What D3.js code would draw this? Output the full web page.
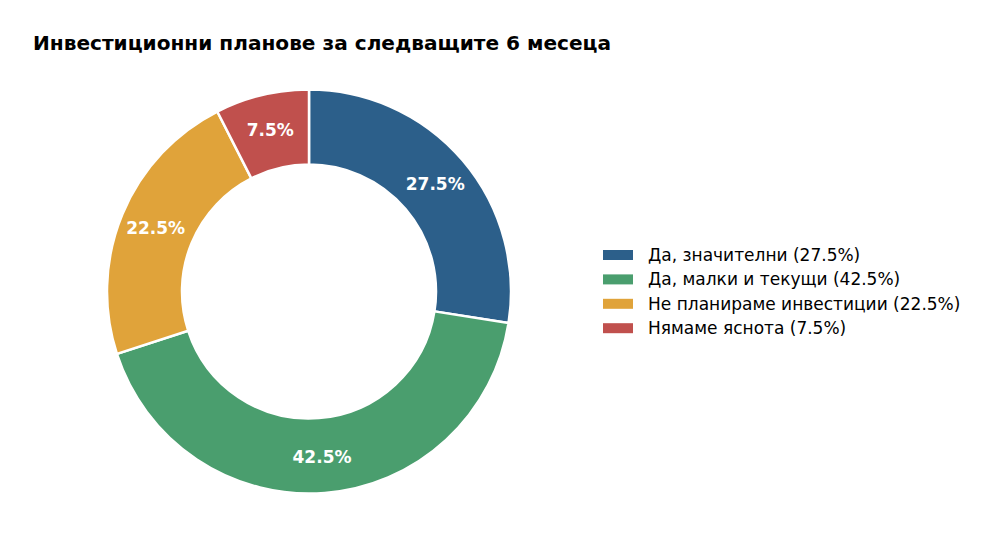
<!DOCTYPE html>
<html>
<head>
<meta charset="utf-8">
<script src="https://cdn.jsdelivr.net/npm/d3@7"></script>
<style>
  body { margin: 0; background: #fff; }
  svg { display: block; font-family: 'DejaVu Sans', sans-serif; }
</style>
</head>
<body>
<div id="chart"></div>
<script>
// data
const categories = ['Да, значителни', 'Да, малки и текущи', 'Не планираме инвестиции', 'Нямаме яснота'];
const shares = [27.5, 42.5, 22.5, 7.5];
const colors = ['#2c5f8a', '#4a9e6e', '#e0a33a', '#c0504d'];

const width = 1000, height = 548;
const cx = 309, cy = 291.5;
const outerR = 202, innerR = 127;

const svg = d3.select('#chart').append('svg')
    .attr('width', width)
    .attr('height', height);

svg.append('text')
    .attr('x', 33)
    .attr('y', 50)
    .attr('font-size', '20.1px')
    .attr('font-weight', 'bold')
    .attr('fill', '#000')
    .text('Инвестиционни планове за следващите 6 месеца');

const pie = d3.pie().sort(null).value(d => d)(shares);
const arc = d3.arc().innerRadius(innerR).outerRadius(outerR);
const labelArc = d3.arc().innerRadius(166).outerRadius(166);

const g = svg.append('g').attr('transform', `translate(${cx},${cy})`);

g.selectAll('path')
  .data(pie)
  .join('path')
    .attr('d', arc)
    .attr('fill', (d, i) => colors[i])
    .attr('stroke', '#fff')
    .attr('stroke-width', 2.5);

g.selectAll('text.pct')
  .data(pie)
  .join('text')
    .attr('class', 'pct')
    .attr('transform', d => `translate(${labelArc.centroid(d)})`)
    .attr('text-anchor', 'middle')
    .attr('dy', '0.35em')
    .attr('fill', '#fff')
    .attr('font-size', '17px')
    .attr('font-weight', 'bold')
    .text(d => d.data.toFixed(1) + '%');

// legend
const legend = svg.append('g').attr('transform', 'translate(603,255)');
const rows = legend.selectAll('g')
  .data(categories)
  .join('g')
    .attr('transform', (d, i) => `translate(0,${i * 24.4})`);

rows.append('rect')
    .attr('x', 0).attr('y', -5)
    .attr('width', 30).attr('height', 10)
    .attr('fill', (d, i) => colors[i]);

rows.append('text')
    .attr('x', 45)
    .attr('dy', '0.35em')
    .attr('font-size', '17px')
    .attr('fill', '#000')
    .text((d, i) => `${d} (${shares[i].toFixed(1)}%)`);
</script>
</body>
</html>
